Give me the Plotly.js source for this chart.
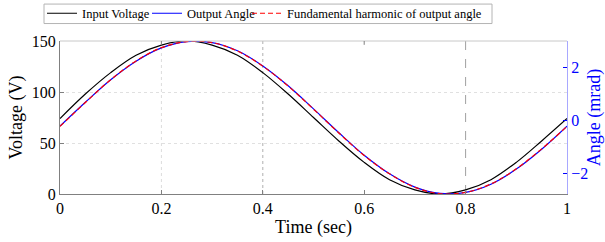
<!DOCTYPE html>
<html>
<head>
<meta charset="utf-8">
<script src="https://cdn.plot.ly/plotly-3.0.1.min.js"></script>
<style>html,body{margin:0;padding:0;background:#fff;}#chart{width:605px;height:242px;}</style>
</head>
<body>
<div id="chart"></div>
<script>
const time = [0,0.05,0.1,0.15,0.2,0.25,0.3,0.35,0.4,0.45,0.5,0.55,0.6,0.65,0.7,0.75,0.8,0.85,0.9,0.95,1.0];
const inputVoltage = [74,98,119,136,146,150,146,136,119,98,75,52,31,14,4,0,4,14,31,52,74];
const outputAngle = [-0.20,0.70,1.55,2.25,2.75,2.99,2.95,2.64,2.07,1.32,0.45,-0.45,-1.30,-2.00,-2.50,-2.74,-2.70,-2.39,-1.82,-1.07,-0.20];
const fundamentalAngle = [-0.21,0.69,1.55,2.26,2.76,2.99,2.95,2.63,2.06,1.31,0.44,-0.46,-1.31,-2.00,-2.51,-2.75,-2.70,-2.38,-1.81,-1.06,-0.21];
const xTicks = [0,0.2,0.4,0.6,0.8,1];
const xTickText = ['0','0.2','0.4','0.6','0.8','1'];
const yTicks = [0,50,100,150];
const y2Ticks = [-2,0,2];

const serif = 'Liberation Serif';
const legFont = {family: serif, size: 12.5, color: '#000'};
function leg(xpx) {
  return {orientation: 'h', x: (xpx - 60) / 507, xanchor: 'left', y: 1.179, yanchor: 'middle',
    bgcolor: 'rgba(0,0,0,0)', borderwidth: 0, font: legFont, itemwidth: 30};
}
const traces = [
  {x: time, y: inputVoltage, name: 'Input Voltage', type: 'scatter', mode: 'lines',
   line: {color: '#000000', width: 1.2, shape: 'spline'}, yaxis: 'y', legend: 'legend'},
  {x: time, y: outputAngle, name: 'Output Angle', type: 'scatter', mode: 'lines',
   line: {color: '#0000ff', width: 1.2, shape: 'spline'}, yaxis: 'y2', legend: 'legend2'},
  {x: time, y: fundamentalAngle, name: 'Fundamental harmonic of output angle', type: 'scatter', mode: 'lines',
   line: {color: '#ff0000', width: 1.2, dash: '5px,3px', shape: 'spline'}, yaxis: 'y2', legend: 'legend3'}
];
const layout = {
  width: 605, height: 242,
  margin: {l: 60, r: 38, t: 41, b: 48, autoexpand: false},
  paper_bgcolor: '#ffffff', plot_bgcolor: '#ffffff',
  font: {family: serif, size: 16, color: '#000'},
  showlegend: true,
  legend: leg(42),
  legend2: leg(147),
  legend3: leg(247),
  xaxis: {range: [0, 1], tickvals: xTicks, ticktext: xTickText, ticks: 'inside', ticklen: 4,
    tickcolor: '#808080', showline: true, linecolor: '#808080', linewidth: 1, mirror: false,
    showgrid: false, zeroline: false, tickfont: {family: serif, size: 16},
    title: {text: 'Time (sec)', font: {family: serif, size: 18}, standoff: 4}},
  yaxis: {range: [0, 150], tickvals: yTicks, ticks: 'inside', ticklen: 4, tickcolor: '#808080',
    showline: true, linecolor: '#808080', linewidth: 1, showgrid: true, gridcolor: '#e0e0e0',
    griddash: 'dot', zeroline: false, tickfont: {family: serif, size: 16},
    title: {text: 'Voltage (V)', font: {family: serif, size: 18}, standoff: 4}},
  yaxis2: {range: [-2.76, 3.01], tickvals: y2Ticks, overlaying: 'y', side: 'right', ticks: 'inside',
    ticklen: 4, tickcolor: '#0000ff', showline: true, linecolor: '#a8a8ff', linewidth: 1,
    showgrid: false, zeroline: false, tickfont: {family: serif, size: 16, color: '#0000ff'},
    title: {text: 'Angle (mrad)', font: {family: serif, size: 18, color: '#0000ff'}, standoff: 4}},
  shapes: [
    {type: 'rect', xref: 'paper', yref: 'paper', x0: (44 - 60) / 507, x1: (492 - 60) / 507,
     y0: (194.3 - 23.5) / 153.3, y1: (194.3 - 4) / 153.3, line: {color: '#b4b4b4', width: 1}, fillcolor: '#ffffff'},
    {type: 'line', xref: 'paper', yref: 'paper', x0: 0, x1: 1, y0: 1, y1: 1, line: {color: '#c8c8c8', width: 1}},
    {type: 'line', xref: 'x', yref: 'paper', x0: 0.2, x1: 0.2, y0: 0, y1: 1, line: {color: '#dcdcdc', width: 1, dash: 'dot'}, layer: 'below'},
    {type: 'line', xref: 'x', yref: 'paper', x0: 0.4, x1: 0.4, y0: 0, y1: 1, line: {color: '#b0b0b0', width: 1, dash: 'dot'}, layer: 'below'},
    {type: 'line', xref: 'x', yref: 'paper', x0: 0.8, x1: 0.8, y0: 0, y1: 1, line: {color: '#a0a0a0', width: 1, dash: 'dash'}, layer: 'below'},
    {type: 'line', xref: 'x', yref: 'paper', x0: 0.2, x1: 0.2, y0: 1, y1: 0.975, line: {color: '#808080', width: 1}},
    {type: 'line', xref: 'x', yref: 'paper', x0: 0.6, x1: 0.6, y0: 1, y1: 0.975, line: {color: '#808080', width: 1}}
  ]
};
Plotly.newPlot('chart', traces, layout, {displayModeBar: false, staticPlot: true});
</script>
</body>
</html>
